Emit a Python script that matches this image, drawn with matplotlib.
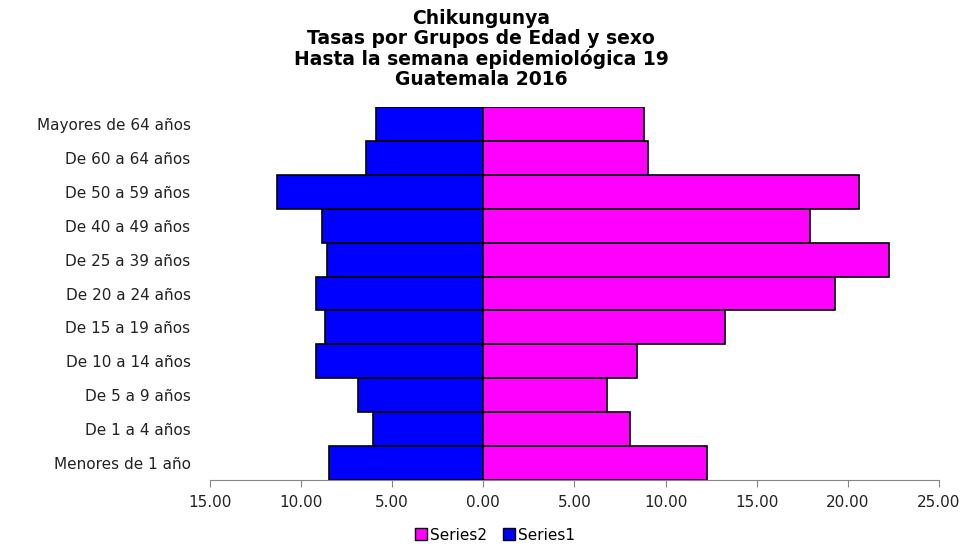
import matplotlib.pyplot as plt
from matplotlib.ticker import FuncFormatter
from matplotlib.patches import Patch

groups = ['Menores de 1 año', 'De 1 a 4 años', 'De 5 a 9 años', 'De 10 a 14 años',
          'De 15 a 19 años', 'De 20 a 24 años', 'De 25 a 39 años', 'De 40 a 49 años',
          'De 50 a 59 años', 'De 60 a 64 años', 'Mayores de 64 años']
series1 = [8.46, 6.08, 6.89, 9.16, 8.70, 9.21, 8.59, 8.83, 11.32, 6.43, 5.88]
series2 = [12.27, 8.04, 6.76, 8.44, 13.26, 19.29, 22.24, 17.90, 20.62, 9.03, 8.79]
xticks = [-15, -10, -5, 0, 5, 10, 15, 20, 25]

title = ('Chikungunya\nTasas por Grupos de Edad y sexo\n'
         'Hasta la semana epidemiológica 19\nGuatemala 2016')

fig = plt.figure(figsize=(9.62, 5.48), dpi=100)
ax = fig.add_axes([210 / 962, 68 / 548, 729 / 962, 373 / 548])

y = range(len(groups))
ax.barh(y, [-v for v in series1], height=1.0, color='#0000FF',
        edgecolor='black', linewidth=1.2)
ax.barh(y, series2, height=1.0, color='#FF00FF',
        edgecolor='black', linewidth=1.2)

ax.set_xlim(-15, 25)
ax.set_ylim(-0.5, len(groups) - 0.5)
ax.set_xticks(xticks)
ax.xaxis.set_major_formatter(FuncFormatter(lambda v, p: f'{abs(v):.2f}'))
ax.set_yticks(list(y))
ax.set_yticklabels(groups)

for s in ['top', 'right', 'left']:
    ax.spines[s].set_visible(False)
ax.spines['bottom'].set_color('#868686')
ax.tick_params(axis='y', length=0, pad=14, labelsize=11, labelcolor='#222222')
ax.tick_params(axis='x', length=5, color='#868686', pad=6, labelsize=11,
               labelcolor='#222222')
for lab in ax.get_xticklabels() + ax.get_yticklabels():
    lab.set_family('DejaVu Sans')

fig.text(0.5, 0.984, title, ha='center', va='top', fontsize=13.5,
         fontweight='bold', family='DejaVu Sans', linespacing=1.06)

handles = [Patch(facecolor='#FF00FF', edgecolor='black', label='Series2'),
           Patch(facecolor='#0000FF', edgecolor='black', label='Series1')]
fig.legend(handles=handles, loc='center', bbox_to_anchor=(495 / 962, 1 - 535 / 548),
           ncol=2, frameon=False, handlelength=0.8, handleheight=0.8,
           handletextpad=0.2, columnspacing=1.0,
           prop={'family': 'DejaVu Sans', 'size': 11})

fig.savefig('out.png', dpi=100)
